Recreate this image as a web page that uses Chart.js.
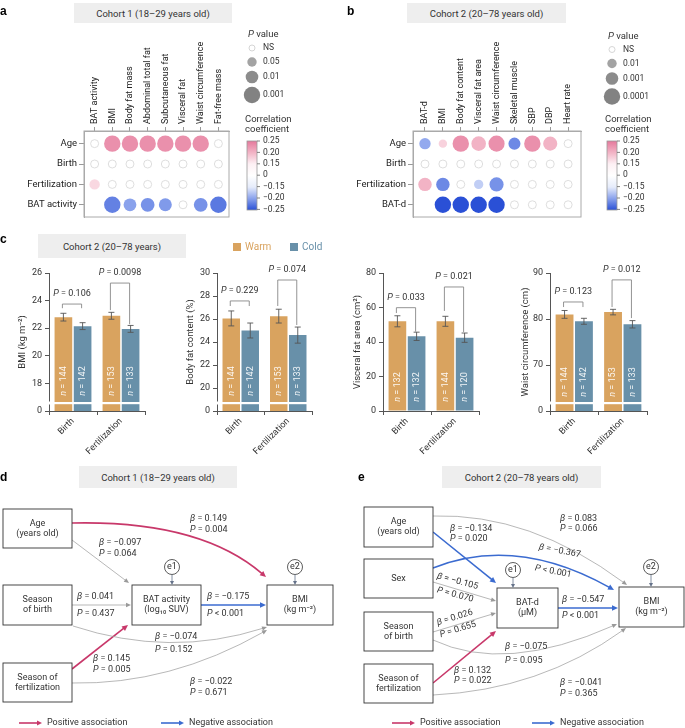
<!DOCTYPE html>
<html lang="en">
<head>
<meta charset="UTF-8">
<title>Season of conception, BAT and adiposity</title>
<script src="https://cdn.jsdelivr.net/npm/chart.js"></script>
<style>
  body { margin: 0; background: #fff; font-family: Roboto, sans-serif; }
  #page { position: relative; width: 685px; height: 728px; overflow: hidden; }
  canvas { position: absolute; }
  .tit { position: absolute; background: #eeeeee; color: #333; font-size: 9.5px; display: flex; align-items: center; justify-content: center; }
  .lbl { position: absolute; font: bold 12px Arial, sans-serif; color: #000; }
  .leg { position: absolute; font-size: 10px; line-height: 10px; }
  .sq { position: absolute; width: 8px; height: 8px; }
</style>
</head>
<body>
<div id="page">
  <canvas id="heatA" width="340" height="230" style="left:0;top:0"></canvas>
  <canvas id="heatB" width="345" height="230" style="left:340px;top:0"></canvas>
  <canvas id="barBmi" width="170" height="230" style="left:0;top:240px"></canvas>
  <canvas id="barFat" width="170" height="230" style="left:170px;top:240px"></canvas>
  <canvas id="barVfa" width="170" height="230" style="left:340px;top:240px"></canvas>
  <canvas id="barWaist" width="175" height="230" style="left:510px;top:240px"></canvas>
  <canvas id="pathD" width="340" height="288" style="left:0;top:440px"></canvas>
  <canvas id="pathE" width="345" height="288" style="left:340px;top:440px"></canvas>

  <div class="lbl" style="left:0;top:4px">a</div>
  <div class="lbl" style="left:347px;top:4px">b</div>
  <div class="lbl" style="left:0;top:232px">c</div>
  <div class="lbl" style="left:0;top:470px">d</div>
  <div class="lbl" style="left:358px;top:470px">e</div>

  <div class="tit" style="left:74px;top:3px;width:158px;height:20px">Cohort 1 (18–29 years old)</div>
  <div class="tit" style="left:407px;top:3px;width:159px;height:20px">Cohort 2 (20–78 years old)</div>
  <div class="tit" style="left:38px;top:234px;width:148px;height:24px">Cohort 2 (20–78 years)</div>
  <div class="tit" style="left:79px;top:466px;width:158px;height:22px">Cohort 1 (18–29 years old)</div>
  <div class="tit" style="left:442px;top:466px;width:159px;height:22px">Cohort 2 (20–78 years old)</div>

  <div class="sq" style="left:233px;top:243px;background:#d9a35f"></div>
  <div class="leg" style="left:245px;top:242px;color:#d9a35f">Warm</div>
  <div class="sq" style="left:290px;top:243px;background:#6890a9"></div>
  <div class="leg" style="left:302px;top:242px;color:#6890a9">Cold</div>
</div>

<script>
    // ---------- a: cohort 1 correlations ----------
    const colsA = ['BAT activity', 'BMI', 'Body fat mass', 'Abdominal total fat', 'Subcutaneous fat',
        'Visceral fat', 'Waist circumference', 'Fat-free mass'];
    const rowsA = ['Age', 'Birth', 'Fertilization', 'BAT activity'];
    const corrA = [
        [0.02, 0.23, 0.23, 0.23, 0.23, 0.23, 0.23, 0.03],
        [0.01, 0.02, 0.01, 0.02, 0.01, 0.02, 0.01, 0.02],
        [0.17, 0.02, 0.01, 0.02, 0.01, 0.02, 0.01, 0.02],
        [null, -0.22, -0.20, -0.21, -0.205, -0.03, -0.21, -0.225]
    ];
    const pA = [
        [0.6, 0.001, 0.001, 0.001, 0.001, 0.001, 0.001, 0.5],
        [0.7, 0.8, 0.6, 0.7, 0.9, 0.5, 0.6, 0.8],
        [0.03, 0.7, 0.8, 0.6, 0.7, 0.5, 0.6, 0.7],
        [null, 0.001, 0.009, 0.005, 0.008, 0.6, 0.005, 0.001]
    ];
    const pLegendA = ['0.05', '0.01', '0.001'];

    // ---------- b: cohort 2 correlations ----------
    const colsB = ['BAT-d', 'BMI', 'Body fat content', 'Visceral fat area', 'Waist circumference',
        'Skeletal muscle', 'SBP', 'DBP', 'Heart rate'];
    const rowsB = ['Age', 'Birth', 'Fertilization', 'BAT-d'];
    const corrB = [
        [-0.195, 0.175, 0.23, 0.20, 0.23, -0.215, 0.23, 0.20, 0.02],
        [0.01, 0.02, 0.01, 0.02, 0.01, 0.02, 0.01, 0.02, 0.01],
        [0.20, -0.215, 0.03, -0.17, -0.21, -0.02, 0.01, 0.02, -0.01],
        [null, -0.25, -0.25, -0.25, -0.25, -0.03, 0.02, -0.01, 0.02]
    ];
    const pB = [
        [0.0025, 0.02, 0.0001, 0.0003, 0.00012, 0.0015, 0.0001, 0.0004, 0.6],
        [0.7, 0.8, 0.6, 0.7, 0.9, 0.5, 0.6, 0.8, 0.7],
        [0.0006, 0.0006, 0.3, 0.011, 0.0004, 0.6, 0.7, 0.5, 0.8],
        [null, 0.0001, 0.0001, 0.0001, 0.0001, 0.5, 0.6, 0.7, 0.8]
    ];
    const pLegendB = ['0.01', '0.001', '0.0001'];
    const corrTicks = ['0.25', '0.20', '0.15', '0', '−0.15', '−0.20', '−0.25'];

    // ---------- c: warm vs cold season (mean, s.e.m.) ----------
    const seasons = ['Birth', 'Fertilization'];
    const bmiWarm = [22.8, 22.9], bmiWarmSe = [0.28, 0.25];
    const bmiCold = [22.15, 21.95], bmiColdSe = [0.25, 0.25];
    const fatWarm = [26.05, 26.25], fatWarmSe = [0.65, 0.6];
    const fatCold = [25.0, 24.6], fatColdSe = [0.65, 0.7];
    const vfaWarm = [52.0, 52.0], vfaWarmSe = [3.2, 2.9];
    const vfaCold = [43.3, 42.5], vfaColdSe = [2.4, 2.7];
    const waistWarm = [81.0, 81.5], waistWarmSe = [0.85, 0.6];
    const waistCold = [79.5, 78.85], waistColdSe = [0.65, 0.8];
    const nWarm = [144, 153], nCold = [142, 133];
    const nWarmVfa = [132, 144], nColdVfa = [132, 120];
    const pBmi = ['0.106', '0.0098'], pFat = ['0.229', '0.074'];
    const pVfa = ['0.033', '0.021'], pWaist = ['0.123', '0.012'];

    // ---------- d, e: path coefficients ----------
    const betaD = [0.149, -0.097, 0.041, 0.145, -0.175, -0.074, -0.022];
    const pD = ['0.004', '0.064', '0.437', '0.005', '< 0.001', '0.152', '0.671'];
    const betaE = [0.083, -0.134, -0.367, -0.105, 0.026, 0.132, -0.547, -0.075, -0.041];
    const pE = ['0.066', '0.020', '< 0.001', '0.070', '0.655', '0.022', '< 0.001', '0.095', '0.365'];

    Chart.defaults.font.family = 'Roboto';
    Chart.defaults.color = '#333';

    const WARM = '#d9a35f', COLD = '#6890a9';
    const RED = '#c8386a', BLUE = '#3b6bd0', GREY = '#9a9a9a';

    function fnt(it, size) {
        return (it ? 'italic ' : '') + size + 'px Roboto';
    }

    // draw a line of text made of plain/italic pieces
    function drawParts(ctx, parts, x, y, align, size, color) {
        ctx.textBaseline = 'middle';
        ctx.textAlign = 'left';
        ctx.fillStyle = color || '#333';
        let w = 0;
        const ws = parts.map(function (p) {
            ctx.font = fnt(p[1], size);
            const m = ctx.measureText(p[0]).width;
            w += m;
            return m;
        });
        let cx = align === 'center' ? x - w / 2 : align === 'right' ? x - w : x;
        parts.forEach(function (p, i) {
            ctx.font = fnt(p[1], size);
            ctx.fillText(p[0], cx, y);
            cx += ws[i];
        });
    }

    function mix(c1, c2, t) {
        const a = [1, 3, 5].map(i => parseInt(c1.substr(i, 2), 16));
        const b = [1, 3, 5].map(i => parseInt(c2.substr(i, 2), 16));
        return 'rgb(' + a.map((v, i) => Math.round(v + (b[i] - v) * t)).join(',') + ')';
    }

    const posStops = [[0, '#ffffff'], [0.15, '#fdf0f4'], [0.20, '#f2b3c5'], [0.25, '#e5799c']];
    const negStops = [[0, '#ffffff'], [0.15, '#e6ecfb'], [0.20, '#8aa2ec'], [0.25, '#2a50d6']];

    function corrColor(r) {
        const st = r >= 0 ? posStops : negStops;
        const a = Math.min(Math.abs(r), 0.25);
        for (let i = 1; i < st.length; i++) {
            if (a <= st[i][0]) {
                return mix(st[i - 1][1], st[i][1], (a - st[i - 1][0]) / (st[i][0] - st[i - 1][0]));
            }
        }
        return st[st.length - 1][1];
    }

    // circle radius from P, interpolated on the legend circles
    function radiusFor(p, legend) {
        const lg = -Math.log10(p);
        const pts = legend.map((s, i) => [-Math.log10(parseFloat(s)), [4.7, 6.3, 8.2][i]]);
        let k = lg < pts[1][0] ? 0 : 1;
        const t = (lg - pts[k][0]) / (pts[k + 1][0] - pts[k][0]);
        return Math.min(9, pts[k][1] + t * (pts[k + 1][1] - pts[k][1]));
    }

    function heatmap(id, cols, rows, corr, pv, legend, o) {
        const pts = [];
        rows.forEach(function (rw, i) {
            cols.forEach(function (c, j) {
                if (corr[i][j] === null) return;
                const ns = pv[i][j] >= 0.05;
                pts.push({ x: j, y: i, r: ns ? 4 : radiusFor(pv[i][j], legend), c: corr[i][j], ns: ns });
            });
        });

        const legendPlugin = {
            id: 'heatLegend',
            afterDraw(chart) {
                const ctx = chart.ctx, a = chart.chartArea, lx = o.lx, ly = o.ly;
                ctx.save();
                ctx.strokeStyle = '#aaa';
                ctx.lineWidth = 1;
                ctx.strokeRect(a.left, a.top, a.right - a.left, a.bottom - a.top);

                // column labels, read bottom to top
                cols.forEach(function (c, i) {
                    ctx.save();
                    ctx.translate(chart.scales.x.getPixelForValue(i), a.top - 7);
                    ctx.rotate(-Math.PI / 2);
                    drawParts(ctx, [[c, false]], 0, 0, 'left', 9, '#222');
                    ctx.restore();
                });

                drawParts(ctx, [['P', true], [' value', false]], lx + 3, 35 + ly, 'left', 9.5);
                const cy = [48, 62, 77, 95];
                ctx.beginPath();
                ctx.arc(lx + 7, cy[0] + ly, 3, 0, Math.PI * 2);
                ctx.fillStyle = '#fff';
                ctx.fill();
                ctx.strokeStyle = '#ccc';
                ctx.lineWidth = 0.8;
                ctx.stroke();
                drawParts(ctx, [['NS', false]], lx + 18, cy[0] + ly, 'left', 8.5);
                const greys = ['#a3a3a3', '#8c8c8c', '#828282'];
                legend.forEach(function (s, i) {
                    ctx.beginPath();
                    ctx.arc(lx + 7, cy[i + 1] + ly, [4.7, 6.3, 8.2][i], 0, Math.PI * 2);
                    ctx.fillStyle = greys[i];
                    ctx.fill();
                    drawParts(ctx, [[s, false]], lx + 18, cy[i + 1] + ly, 'left', 8.5);
                });

                drawParts(ctx, [['Correlation', false]], lx, 120, 'left', 9.5);
                drawParts(ctx, [['coefficient', false]], lx, 130, 'left', 9.5);
                const g = ctx.createLinearGradient(0, 141, 0, 210);
                g.addColorStop(0, '#e5799c');
                g.addColorStop(1 / 6, '#f2b3c5');
                g.addColorStop(2 / 6, '#fdf0f4');
                g.addColorStop(0.5, '#ffffff');
                g.addColorStop(4 / 6, '#e6ecfb');
                g.addColorStop(5 / 6, '#8aa2ec');
                g.addColorStop(1, '#2a50d6');
                ctx.fillStyle = g;
                ctx.fillRect(lx + 2, 141, 10, 69);
                ctx.strokeStyle = '#999';
                ctx.lineWidth = 0.8;
                ctx.strokeRect(lx + 2, 141, 10, 69);
                corrTicks.forEach(function (t, i) {
                    const y = 141 + i * 11.4;
                    ctx.beginPath();
                    ctx.moveTo(lx + 12, y);
                    ctx.lineTo(lx + 15, y);
                    ctx.strokeStyle = '#666';
                    ctx.stroke();
                    drawParts(ctx, [[t, false]], lx + 18, y, 'left', 8.5);
                });
                ctx.restore();
            }
        };

        new Chart(document.getElementById(id), {
            type: 'bubble',
            data: {
                datasets: [{
                    data: pts,
                    backgroundColor: c => c.raw ? (c.raw.ns ? '#fff' : corrColor(c.raw.c)) : '#fff',
                    borderColor: c => c.raw ? (c.raw.ns ? '#d6d6d6' : corrColor(c.raw.c)) : '#ccc',
                    borderWidth: c => c.raw && c.raw.ns ? 0.8 : 0
                }]
            },
            options: {
                responsive: false,
                animation: false,
                events: [],
                layout: { padding: { left: 0, top: 0, right: o.padR, bottom: 13 } },
                plugins: { legend: { display: false }, tooltip: { enabled: false } },
                scales: {
                    x: {
                        type: 'linear', position: 'top', min: o.xmin, max: o.xmax,
                        afterBuildTicks: s => { s.ticks = cols.map((c, i) => ({ value: i })); },
                        afterFit: s => { s.height = 131; },
                        ticks: { display: false },
                        grid: { drawOnChartArea: false, tickLength: 4, color: '#999' },
                        border: { color: '#aaa' }
                    },
                    y: {
                        type: 'linear', reverse: true, min: -0.62, max: 3.6,
                        afterBuildTicks: s => { s.ticks = rows.map((r, i) => ({ value: i })); },
                        afterFit: s => { s.width = o.yW; },
                        ticks: { callback: v => rows[v], autoSkip: false, font: { size: 9.5 }, color: '#222', padding: 2 },
                        grid: { drawOnChartArea: false, tickLength: 5, color: '#999' },
                        border: { color: '#aaa' }
                    }
                }
            },
            plugins: [legendPlugin]
        });
    }

    heatmap('heatA', colsA, rowsA, corrA, pA, pLegendA, { xmin: -0.6, xmax: 7.6, yW: 84, padR: 111, lx: 245, ly: 0 });
    heatmap('heatB', colsB, rowsB, corrB, pB, pLegendB, { xmin: -0.67, xmax: 8.72, yW: 73, padR: 104, lx: 265, ly: 1.5 });

    // ---------- c: bar charts ----------
    function barChart(id, warm, warmSe, cold, coldSe, nw, nc, pTxt, o) {
        const extras = {
            id: 'barExtras',
            afterDatasetsDraw(chart) {
                const ctx = chart.ctx, a = chart.chartArea, y = chart.scales.y;
                const m0 = chart.getDatasetMeta(0).data, m1 = chart.getDatasetMeta(1).data;
                ctx.save();
                // axis break
                if (o.brk) {
                    ctx.fillStyle = '#fff';
                    [m0, m1].forEach(function (m) {
                        m.forEach(function (b) {
                            ctx.fillRect(b.x - b.width / 2 - 1, a.bottom - 9, b.width + 2, 2.2);
                        });
                    });
                    ctx.fillRect(a.left - 2, a.bottom - 9.5, 4, 3);
                }
                // n labels
                [[m0, nw], [m1, nc]].forEach(function (pair) {
                    pair[0].forEach(function (b, i) {
                        ctx.save();
                        ctx.translate(b.x, a.bottom - o.nOff);
                        ctx.rotate(-Math.PI / 2);
                        drawParts(ctx, [['n', true], [' = ' + pair[1][i], false]], 0, 0, 'center', 9, 'rgba(255,255,255,0.92)');
                        ctx.restore();
                    });
                });
                // error bars
                ctx.strokeStyle = '#555';
                ctx.lineWidth = 0.9;
                [[m0, warm, warmSe], [m1, cold, coldSe]].forEach(function (set) {
                    set[0].forEach(function (b, i) {
                        const t = y.getPixelForValue(set[1][i] + set[2][i]);
                        const bt = y.getPixelForValue(set[1][i] - set[2][i]);
                        ctx.beginPath();
                        ctx.moveTo(b.x, t); ctx.lineTo(b.x, bt);
                        ctx.moveTo(b.x - 3, t); ctx.lineTo(b.x + 3, t);
                        ctx.moveTo(b.x - 3, bt); ctx.lineTo(b.x + 3, bt);
                        ctx.stroke();
                    });
                });
                // P brackets
                ctx.strokeStyle = '#888';
                ctx.lineWidth = 0.9;
                o.brackets.forEach(function (br, i) {
                    const xl = m0[i].x - 1, xr = m1[i].x - 1, yt = y.getPixelForValue(br[0]);
                    ctx.beginPath();
                    ctx.moveTo(xl, y.getPixelForValue(br[1]));
                    ctx.lineTo(xl, yt);
                    ctx.lineTo(xr, yt);
                    ctx.lineTo(xr, y.getPixelForValue(br[2]));
                    ctx.stroke();
                    drawParts(ctx, [['P', true], [' = ' + pTxt[i], false]], (xl + xr) / 2, yt - 10, 'center', 9);
                });
                // y title
                ctx.translate(a.left - o.titleOff, (a.top + a.bottom) / 2);
                ctx.rotate(-Math.PI / 2);
                drawParts(ctx, [[o.title, false]], 0, 0, 'center', 9.5);
                ctx.restore();
            }
        };

        new Chart(document.getElementById(id), {
            type: 'bar',
            data: {
                labels: seasons,
                datasets: [
                    { label: 'Warm', data: warm, backgroundColor: WARM },
                    { label: 'Cold', data: cold, backgroundColor: COLD }
                ]
            },
            options: {
                responsive: false,
                animation: false,
                events: [],
                categoryPercentage: 0.8,
                barPercentage: 0.92,
                layout: { padding: { left: 0, top: 33, right: o.padR, bottom: 0 } },
                plugins: { legend: { display: false }, tooltip: { enabled: false } },
                scales: {
                    x: {
                        afterFit: s => { s.height = 59; },
                        ticks: { minRotation: 45, maxRotation: 45, font: { size: 9 }, color: '#333', padding: 1 },
                        grid: { offset: true, drawOnChartArea: false, tickLength: 4, color: '#555' },
                        border: { color: '#555' }
                    },
                    y: {
                        min: o.min, max: o.max,
                        afterFit: s => { s.width = o.yW; },
                        ticks: { stepSize: o.step, callback: v => (o.brk && v === o.min) ? '0' : v, font: { size: 9 }, color: '#333', padding: 3 },
                        grid: { drawOnChartArea: false, tickLength: 4, color: '#555' },
                        border: { color: '#555' }
                    }
                }
            },
            plugins: [extras]
        });
    }

    barChart('barBmi', bmiWarm, bmiWarmSe, bmiCold, bmiColdSe, nWarm, nCold, pBmi, {
        min: 16, max: 26, step: 2, brk: true, yW: 49, padR: 25, nOff: 30, titleOff: 26,
        title: 'BMI (kg m⁻²)', brackets: [[23.75, 23.45, 23.45], [25.27, 23.31, 22.29]]
    });
    barChart('barFat', fatWarm, fatWarmSe, fatCold, fatColdSe, nWarm, nCold, pFat, {
        min: 18, max: 30, step: 2, brk: true, yW: 47, padR: 28, nOff: 30, titleOff: 26,
        title: 'Body fat content (%)', brackets: [[27.57, 27.13, 27.13], [29.39, 27.13, 25.48]]
    });
    barChart('barVfa', vfaWarm, vfaWarmSe, vfaCold, vfaColdSe, nWarmVfa, nColdVfa, pVfa, {
        min: 0, max: 80, step: 20, brk: false, yW: 43, padR: 31, nOff: 24, titleOff: 25,
        title: 'Visceral fat area (cm²)', brackets: [[59.9, 56.8, 46.0], [71.9, 58.0, 45.8]]
    });
    barChart('barWaist', waistWarm, waistWarmSe, waistCold, waistColdSe, nWarm, nCold, pWaist, {
        min: 60, max: 90, step: 10, brk: true, yW: 40, padR: 38, nOff: 29, titleOff: 24,
        title: 'Waist circumference (cm)', brackets: [[83.7, 82.6, 82.6], [88.5, 82.6, 80.2]]
    });

    // ---------- d, e: path diagrams (layout in diagram units) ----------
    const nodesD = [
        { x0: 3, x1: 72, y0: 69, y1: 108, txt: ['Age', '(years old)'] },
        { x0: 3, x1: 72, y0: 145, y1: 185, txt: ['Season', 'of birth'] },
        { x0: 3, x1: 72, y0: 223, y1: 262, txt: ['Season of', 'fertilization'] },
        { x0: 132, x1: 201, y0: 145, y1: 185, txt: ['BAT activity', '(log₁₀ SUV)'] },
        { x0: 267, x1: 333, y0: 145, y1: 185, txt: ['BMI', '(kg m⁻²)'] }
    ];
    const errD = [{ x: 172, y: 127, to: 145, t: 'e1' }, { x: 295, y: 127, to: 145, t: 'e2' }];
    const edgesD = [
        { a: [72, 83], b: [266, 137], c: [200, 80], lb: [190, 79], lp: [190, 90] },
        { a: [72, 100], b: [129, 143], lb: [99, 103], lp: [99, 114] },
        { a: [72, 165], b: [131, 165], lb: [77, 157], lp: [77, 174] },
        { a: [72, 229], b: [128, 185], lb: [93, 219], lp: [93, 230] },
        { a: [201, 165], b: [266, 165], lb: [207, 157], lp: [207, 174] },
        { a: [73, 186], b: [267, 187], c: [170, 218], lb: [155, 197], lp: [155, 210] },
        { a: [72, 243], b: [267, 190], c: [170, 245], lb: [190, 242], lp: [190, 253] }
    ];
    const nodesE = [
        { x0: 24, x1: 93, y0: 67, y1: 107, txt: ['Age', '(years old)'] },
        { x0: 24, x1: 93, y0: 119, y1: 158, txt: ['Sex'] },
        { x0: 24, x1: 93, y0: 172, y1: 211, txt: ['Season', 'of birth'] },
        { x0: 24, x1: 93, y0: 224, y1: 263, txt: ['Season of', 'fertilization'] },
        { x0: 157, x1: 218, y0: 148, y1: 188, txt: ['BAT-d', '(μM)'] },
        { x0: 279, x1: 344, y0: 147, y1: 187, txt: ['BMI', '(kg m⁻²)'] }
    ];
    const errE = [{ x: 173, y: 130, to: 148, t: 'e1' }, { x: 311, y: 127, to: 147, t: 'e2' }];
    const edgesE = [
        { a: [93, 76], b: [287, 145], c: [190, 73], lb: [220, 79], lp: [220, 89] },
        { a: [93, 92], b: [156, 143], lb: [110, 89], lp: [110, 99] },
        { a: [93, 128], b: [274, 150], c: [176, 95], lb: [199, 107], lp: [195, 128], rot: 11 },
        { a: [93, 142], b: [156, 161], lb: [97, 136], lp: [97, 150], rot: 15 },
        { a: [93, 192], b: [156, 173], lb: [97, 183], lp: [100, 195], rot: -17 },
        { a: [93, 243], b: [156, 191], lb: [114, 231], lp: [114, 241] },
        { a: [218, 168], b: [278, 168], lb: [222, 160], lp: [222, 176] },
        { a: [93, 200], b: [277, 184], c: [165, 234], lb: [165, 207], lp: [165, 221] },
        { a: [93, 255], b: [286, 188], c: [200, 250], lb: [220, 243], lp: [220, 254] }
    ];

    function fmtBeta(b) {
        return (b < 0 ? '−' : '') + Math.abs(b).toFixed(3);
    }

    function arrowHead(ctx, x, y, dx, dy, len, hw, color) {
        const l = Math.hypot(dx, dy), ux = dx / l, uy = dy / l;
        ctx.beginPath();
        ctx.moveTo(x, y);
        ctx.lineTo(x - ux * len - uy * hw, y - uy * len + ux * hw);
        ctx.lineTo(x - ux * len + uy * hw, y - uy * len - ux * hw);
        ctx.closePath();
        ctx.fillStyle = color;
        ctx.fill();
    }

    function pathDiagram(id, W, nodes, errs, edges, betas, ps, legendX) {
        const plugin = {
            id: 'pathDiagram',
            afterDraw(chart) {
                const ctx = chart.ctx;
                const X = v => chart.scales.x.getPixelForValue(v);
                const Y = v => chart.scales.y.getPixelForValue(v);
                ctx.save();

                edges.forEach(function (e, i) {
                    const sig = parseFloat(ps[i].replace('<', '')) < 0.05;
                    const col = !sig ? GREY : betas[i] > 0 ? RED : BLUE;
                    const lw = sig ? 1.6 : 0.7;
                    const ax = X(e.a[0]), ay = Y(e.a[1]), bx = X(e.b[0]), by = Y(e.b[1]);
                    const len = sig ? 6 : 5, hw = sig ? 2.8 : 2.2;
                    let dx, dy;
                    if (e.c) {
                        dx = bx - X(e.c[0]); dy = by - Y(e.c[1]);
                    } else {
                        dx = bx - ax; dy = by - ay;
                    }
                    const l = Math.hypot(dx, dy);
                    const ex = bx - dx / l * len * 0.8, ey = by - dy / l * len * 0.8;
                    ctx.beginPath();
                    ctx.moveTo(ax, ay);
                    if (e.c) ctx.quadraticCurveTo(X(e.c[0]), Y(e.c[1]), ex, ey);
                    else ctx.lineTo(ex, ey);
                    ctx.strokeStyle = col;
                    ctx.lineWidth = lw;
                    ctx.stroke();
                    arrowHead(ctx, bx, by, dx, dy, len, hw, col);

                    const bParts = [['β', true], [' = ' + fmtBeta(betas[i]), false]];
                    const pParts = [['P', true], [(ps[i].charAt(0) === '<' ? ' ' : ' = ') + ps[i], false]];
                    [[bParts, e.lb], [pParts, e.lp]].forEach(function (lab) {
                        ctx.save();
                        ctx.translate(X(lab[1][0]), Y(lab[1][1]));
                        if (e.rot) ctx.rotate(e.rot * Math.PI / 180);
                        drawParts(ctx, lab[0], 0, 0, 'left', 9);
                        ctx.restore();
                    });
                });

                nodes.forEach(function (n) {
                    const x0 = X(n.x0), x1 = X(n.x1), y0 = Y(n.y0), y1 = Y(n.y1);
                    ctx.fillStyle = '#fff';
                    ctx.fillRect(x0, y0, x1 - x0, y1 - y0);
                    ctx.strokeStyle = '#333';
                    ctx.lineWidth = 0.9;
                    ctx.strokeRect(x0, y0, x1 - x0, y1 - y0);
                    const cy = (y0 + y1) / 2, k = n.txt.length;
                    n.txt.forEach(function (t, j) {
                        drawParts(ctx, [[t, false]], (x0 + x1) / 2, cy + (j - (k - 1) / 2) * 10, 'center', 9);
                    });
                });

                errs.forEach(function (e) {
                    const cx = X(e.x), cy = Y(e.y);
                    ctx.beginPath();
                    ctx.arc(cx, cy, 7.5, 0, Math.PI * 2);
                    ctx.fillStyle = '#fff';
                    ctx.fill();
                    ctx.strokeStyle = '#333';
                    ctx.lineWidth = 0.8;
                    ctx.stroke();
                    drawParts(ctx, [[e.t, false]], cx, cy, 'center', 9);
                    ctx.beginPath();
                    ctx.moveTo(cx, cy + 7.5);
                    ctx.lineTo(cx, Y(e.to) - 3);
                    ctx.strokeStyle = '#66738a';
                    ctx.stroke();
                    arrowHead(ctx, cx, Y(e.to), 0, 1, 4, 2, '#66738a');
                });

                // legend
                [[RED, legendX[0], 'Positive association'], [BLUE, legendX[1], 'Negative association']].forEach(function (lg) {
                    const x = X(lg[1]), y = Y(283);
                    ctx.beginPath();
                    ctx.moveTo(x, y);
                    ctx.lineTo(x + 19, y);
                    ctx.strokeStyle = lg[0];
                    ctx.lineWidth = 1.6;
                    ctx.stroke();
                    arrowHead(ctx, x + 23, y, 1, 0, 5, 2.5, lg[0]);
                    drawParts(ctx, [[lg[2], false]], x + 28, y, 'left', 9);
                });
                ctx.restore();
            }
        };

        new Chart(document.getElementById(id), {
            type: 'scatter',
            data: { datasets: [{ data: [] }] },
            options: {
                responsive: false,
                animation: false,
                events: [],
                layout: { padding: 0 },
                plugins: { legend: { display: false }, tooltip: { enabled: false } },
                scales: {
                    x: { type: 'linear', min: 0, max: W, display: false },
                    y: { type: 'linear', min: 0, max: 288, reverse: true, display: false }
                }
            },
            plugins: [plugin]
        });
    }

    pathDiagram('pathD', 340, nodesD, errD, edgesD, betaD, pD, [19, 161]);
    pathDiagram('pathE', 345, nodesE, errE, edgesE, betaE, pE, [52, 192]);
</script>
</body>
</html>
